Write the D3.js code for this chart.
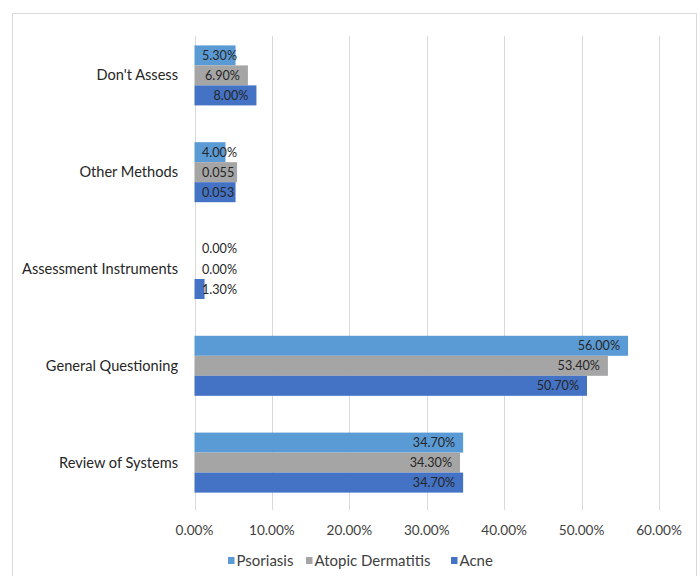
<!DOCTYPE html>
<html><head><meta charset="utf-8">
<script src="https://cdn.jsdelivr.net/npm/d3@7"></script>
<style>body{margin:0;background:#fff;}svg{display:block;font-family:Lato,"Open Sans",sans-serif;}</style>
</head><body>
<svg id="c" width="700" height="576"></svg>
<script>
const categories = ["Don't Assess","Other Methods","Assessment Instruments","General Questioning","Review of Systems"];
const seriesNames = ["Psoriasis","Atopic Dermatitis","Acne"];
const seriesColors = ["#5b9bd5","#a5a5a5","#4472c4"];
const psoriasis = [5.3, 4.0, 0.0, 56.0, 34.7];
const atopicDermatitis = [6.9, 5.5, 0.0, 53.4, 34.3];
const acne = [8.0, 5.3, 1.3, 50.7, 34.7];
const labelsPsoriasis = ["5.30%","4.00%","0.00%","56.00%","34.70%"];
const labelsAtopic = ["6.90%","0.055","0.00%","53.40%","34.30%"];
const labelsAcne = ["8.00%","0.053","1.30%","50.70%","34.70%"];
const ticks = [0,10,20,30,40,50,60];

const series = [psoriasis, atopicDermatitis, acne];
const labels = [labelsPsoriasis, labelsAtopic, labelsAcne];

const svg = d3.select("#c");
svg.append("rect").attr("x",12.5).attr("y",13.5).attr("width",684).attr("height",580)
  .attr("fill","none").attr("stroke","#d9d9d9").attr("stroke-width",1);

const x = d3.scaleLinear().domain([0,60]).range([194.5,659]);
const y = d3.scaleBand().domain(categories).range([27,511]).paddingInner(0.38).paddingOuter(0.19);
const ySub = d3.scaleBand().domain(d3.range(3)).range([0,y.bandwidth()]);

// gridlines
svg.append("g").selectAll("line").data(ticks).join("line")
  .attr("x1",d=>Math.round(x(d))+0.5).attr("x2",d=>Math.round(x(d))+0.5)
  .attr("y1",36).attr("y2",510).attr("stroke","#d9d9d9").attr("stroke-width",1);

// tick labels
svg.append("g").selectAll("text").data(ticks).join("text")
  .attr("x",d=>x(d)).attr("y",535).attr("text-anchor","middle")
  .attr("font-size",13.6).attr("fill","#404040").text(d=>d.toFixed(2)+"%");

// category labels
svg.append("g").selectAll("text").data(categories).join("text")
  .attr("x",178).attr("y",d=>y(d)+y.bandwidth()/2+5).attr("text-anchor","end")
  .attr("font-size",14.6).attr("fill","#262626").text(d=>d);

// bars
series.forEach((vals,si)=>{
  const g = svg.append("g");
  g.selectAll("rect").data(vals).join("rect")
    .attr("x",x(0)).attr("y",(d,i)=>y(categories[i])+ySub(si))
    .attr("width",d=>x(d)-x(0)).attr("height",ySub.bandwidth())
    .attr("fill",seriesColors[si]);
  g.selectAll("text").data(vals).join("text")
    .attr("y",(d,i)=>y(categories[i])+ySub(si)+ySub.bandwidth()/2+4.5)
    .attr("text-anchor","start").attr("font-size",12.6).attr("fill","#262626")
    .text((d,i)=>labels[si][i])
    .each(function(d){
      const w = this.getComputedTextLength();
      const left = Math.max(x(d)-8-w, x(0)+7.5);
      d3.select(this).attr("x", left);
    });
});

// legend
const legSq = [228,306,451];
const lg = svg.append("g");
seriesNames.forEach((n,i)=>{
  lg.append("rect").attr("x",legSq[i]).attr("y",557).attr("width",6.5).attr("height",7).attr("fill",seriesColors[i]);
  lg.append("text").attr("x",legSq[i]+8.5).attr("y",566).attr("font-size",15).attr("fill","#404040").text(n);
});
</script>
</body></html>
